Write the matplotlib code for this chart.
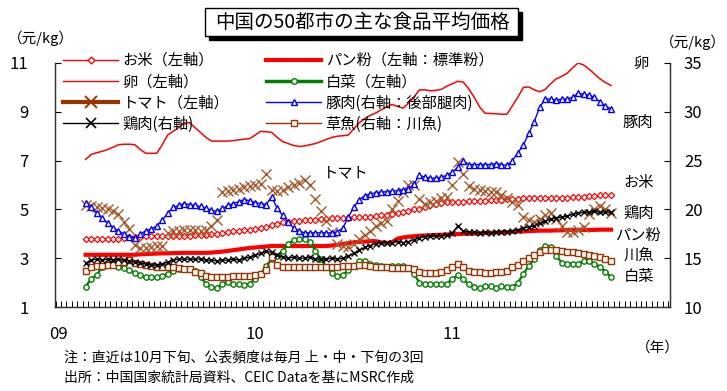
import numpy as np
import matplotlib.pyplot as plt
from matplotlib.lines import Line2D
from matplotlib.patches import Rectangle

plt.rcParams['font.family'] = ['Noto Sans CJK JP', 'DejaVu Sans']

# 旬 index counted from 2009年1月上旬 (0) ; data runs 2009年2月下旬 .. 2011年10月下旬
periods = np.arange(5, 102)
year_ticks = [0, 36, 72]
year_labels = ['09', '10', '11']

# left axis (元/kg)
rice = [3.78, 3.78, 3.78, 3.78, 3.78, 3.79, 3.80, 3.82, 3.85, 3.88,
        3.88, 3.90, 3.92, 3.92, 3.92, 3.93, 3.93, 3.93, 3.93, 3.93,
        3.95, 3.96, 3.97, 3.98, 3.99, 4.02, 4.07, 4.10, 4.12, 4.14,
        4.16, 4.18, 4.22, 4.28, 4.35, 4.42, 4.47, 4.50, 4.52, 4.53,
        4.55, 4.57, 4.58, 4.60, 4.62, 4.63, 4.64, 4.65, 4.66, 4.67,
        4.68, 4.69, 4.70, 4.72, 4.75, 4.78, 4.82, 4.85, 4.90, 4.95,
        5.00, 5.02, 5.10, 5.18, 5.24, 5.27, 5.29, 5.30, 5.31, 5.32,
        5.33, 5.34, 5.35, 5.36, 5.37, 5.38, 5.40, 5.42, 5.43, 5.44,
        5.45, 5.45, 5.46, 5.46, 5.47, 5.47, 5.48, 5.48, 5.48, 5.49,
        5.50, 5.51, 5.55, 5.56, 5.57, 5.57, 5.57]
egg = [7.05, 7.25, 7.32, 7.38, 7.45, 7.55, 7.65, 7.67, 7.67, 7.65,
       7.45, 7.30, 7.30, 7.30, 7.65, 8.05, 8.20, 8.35, 8.55, 8.55,
       8.35, 8.15, 7.95, 7.80, 7.80, 7.80, 7.80, 7.82, 7.85, 7.88,
       7.90, 8.05, 8.20, 8.18, 8.16, 7.95, 7.78, 7.70, 7.62, 7.58,
       7.60, 7.65, 7.70, 7.78, 7.87, 7.95, 8.00, 8.02, 8.05, 8.30,
       8.55, 8.72, 8.85, 8.95, 9.08, 9.20, 9.30, 9.22, 9.15, 9.35,
       9.60, 9.90, 9.90, 9.86, 9.88, 9.92, 10.05, 10.15, 10.25, 10.22,
       9.95, 9.60, 9.20, 8.94, 8.93, 8.92, 8.90, 8.90, 9.25, 9.60,
       10.00, 10.02, 9.90, 9.82, 9.92, 10.15, 10.35, 10.45, 10.58, 10.80,
       11.00, 10.92, 10.75, 10.55, 10.35, 10.20, 10.08]
tomato = [5.20, 5.15, 5.10, 5.05, 5.00, 4.95, 4.80, 4.47, 4.20, 3.55,
          3.40, 3.42, 3.45, 3.48, 3.50, 4.05, 4.10, 4.13, 4.15, 4.15,
          4.15, 4.12, 4.15, 4.30, 4.55, 5.70, 5.75, 5.80, 5.85, 5.90,
          5.95, 6.00, 6.05, 6.46, 5.80, 5.75, 5.80, 5.90, 6.00, 6.10,
          6.20, 5.98, 5.43, 4.95, 4.54, 4.06, 3.60, 3.50, 3.44, 3.60,
          3.79, 3.95, 4.13, 4.30, 4.45, 4.54, 5.03, 5.36, 5.70, 6.00,
          6.02, 5.44, 5.24, 5.30, 5.36, 5.45, 5.50, 5.98, 6.94, 6.47,
          5.95, 5.85, 5.80, 5.75, 5.70, 5.70, 5.60, 5.45, 5.30, 5.16,
          4.67, 4.55, 4.50, 4.60, 4.75, 4.85, 4.60, 4.33, 4.06, 4.06,
          4.15, 4.26, 4.80, 5.00, 5.15, 5.00, 4.85]
flour = [3.14, 3.14, 3.14, 3.14, 3.14, 3.14, 3.14, 3.14, 3.14, 3.14,
         3.16, 3.17, 3.18, 3.19, 3.20, 3.20, 3.21, 3.21, 3.22, 3.22,
         3.22, 3.22, 3.22, 3.23, 3.25, 3.27, 3.30, 3.33, 3.36, 3.39,
         3.42, 3.44, 3.46, 3.48, 3.50, 3.50, 3.50, 3.50, 3.50, 3.50,
         3.50, 3.50, 3.50, 3.50, 3.50, 3.52, 3.55, 3.58, 3.62, 3.65,
         3.67, 3.68, 3.70, 3.70, 3.65, 3.62, 3.65, 3.80, 3.85, 3.88,
         3.90, 3.92, 3.93, 3.94, 3.95, 3.96, 3.97, 3.98, 3.99, 4.00,
         4.00, 4.01, 4.02, 4.03, 4.04, 4.05, 4.06, 4.07, 4.08, 4.09,
         4.10, 4.11, 4.12, 4.13, 4.13, 4.13, 4.14, 4.14, 4.15, 4.15,
         4.15, 4.16, 4.16, 4.16, 4.17, 4.17, 4.17]
cabbage = [1.84, 2.15, 2.32, 2.62, 2.76, 2.76, 2.65, 2.59, 2.50, 2.41,
           2.32, 2.21, 2.21, 2.21, 2.28, 2.37, 2.49, 2.55, 2.55, 2.55,
           2.49, 2.21, 1.96, 1.82, 1.77, 1.96, 2.04, 1.93, 1.93, 1.90,
           1.96, 2.14, 2.35, 2.69, 2.96, 3.10, 3.30, 3.58, 3.74, 3.79,
           3.79, 3.65, 3.30, 2.96, 2.65, 2.40, 2.28, 2.32, 2.50, 2.69,
           2.89, 2.89, 2.76, 2.72, 2.69, 2.65, 2.67, 2.69, 2.69, 2.60,
           2.35, 2.00, 1.95, 1.93, 1.93, 1.94, 1.96, 2.14, 2.32, 2.14,
           1.93, 1.82, 1.77, 1.85, 1.85, 1.78, 1.85, 1.80, 1.82, 2.00,
           2.35, 2.69, 2.96, 3.33, 3.51, 3.47, 3.10, 2.82, 2.78, 2.78,
           2.78, 2.89, 2.89, 2.78, 2.65, 2.45, 2.23]

# right axis (元/kg)
pork = [20.7, 20.2, 19.6, 19.1, 18.6, 18.1, 17.8, 17.5, 17.2, 17.1,
        17.5, 17.8, 18.0, 18.3, 18.9, 19.6, 20.2, 20.4, 20.6, 20.5,
        20.4, 20.3, 20.1, 19.9, 19.8, 20.1, 20.4, 20.6, 20.8, 21.0,
        20.9, 20.7, 20.6, 20.5, 21.3, 20.1, 19.4, 18.7, 18.1, 17.8,
        17.6, 17.6, 17.6, 17.6, 17.6, 17.6, 17.7, 18.1, 19.2, 20.2,
        21.0, 21.4, 21.6, 21.7, 21.8, 21.8, 21.9, 21.9, 22.0, 22.1,
        22.6, 23.5, 23.3, 23.2, 23.2, 23.3, 23.5, 23.8, 24.3, 25.0,
        24.6, 24.6, 24.6, 24.6, 24.6, 24.7, 24.6, 24.5, 25.0, 25.8,
        26.6, 27.8, 29.0, 30.5, 31.3, 31.3, 31.2, 31.3, 31.3, 31.5,
        31.9, 31.8, 31.7, 31.5, 31.0, 30.6, 30.3]
chicken = [14.5, 14.8, 14.9, 14.8, 14.9, 14.8, 14.9, 14.8, 14.7, 14.6,
           14.5, 14.4, 14.3, 14.3, 14.4, 14.6, 14.8, 14.9, 14.9, 14.9,
           14.9, 14.9, 14.8, 14.8, 14.7, 14.8, 14.8, 14.9, 14.8, 15.0,
           15.1, 15.3, 15.5, 15.7, 15.6, 15.3, 15.1, 15.0, 15.1, 15.0,
           15.0, 15.1, 14.9, 14.9, 14.9, 15.0, 14.9, 15.0, 15.2, 15.5,
           15.8, 16.1, 16.3, 16.5, 16.6, 16.6, 16.6, 16.7, 16.6, 16.7,
           16.9, 17.1, 17.2, 17.3, 17.3, 17.3, 17.4, 17.6, 18.3, 17.8,
           17.7, 17.65, 17.6, 17.65, 17.6, 17.65, 17.7, 17.7, 17.8, 17.9,
           18.1, 18.2, 18.3, 18.6, 18.8, 19.0, 19.1, 19.2, 19.3, 19.5,
           19.6, 19.7, 19.7, 19.8, 19.7, 19.75, 19.7]
carp = [13.7, 14.1, 14.2, 14.2, 14.3, 14.35, 14.65, 14.65, 14.8, 14.5,
        14.4, 14.3, 14.2, 14.1, 14.1, 14.05, 14.1, 14.0, 13.9, 13.9,
        13.55, 13.45, 13.2, 13.1, 13.1, 13.1, 13.1, 13.15, 13.15, 13.15,
        13.2, 13.3, 13.4, 13.8, 15.1, 14.3, 14.05, 14.05, 14.05, 14.05,
        14.05, 14.05, 14.05, 14.05, 14.05, 14.05, 14.05, 14.2, 14.2, 14.25,
        14.3, 14.3, 14.2, 14.1, 14.05, 14.05, 14.0, 14.0, 14.0, 13.95,
        13.9, 13.55, 13.5, 13.5, 13.5, 13.6, 13.8, 14.05, 14.4, 14.1,
        13.7, 13.6, 13.55, 13.5, 13.5, 13.55, 13.6, 13.7, 14.1, 14.35,
        14.7, 15.05, 15.35, 15.6, 15.8, 15.85, 15.8, 15.75, 15.65, 15.6,
        15.5, 15.45, 15.3, 15.2, 15.1, 14.95, 14.75]

W, H = 727, 391


def fx(px):
    return px / W


def fy(py):
    return 1 - py / H


RED = '#FF0000'
GREEN = '#008000'
BLUE = '#0000FF'
BROWN = '#993300'
TOMATO_MK = '#A8582A'
CARP = '#993300'

fig = plt.figure(figsize=(7.27, 3.91), dpi=100)
ax = fig.add_axes([fx(55), fy(307), fx(670) - fx(55), fy(63) - fy(307)])
ax2 = ax.twinx()

# left axis series
ax.plot(periods, egg, color=RED, lw=1.1, zorder=2)
ax.plot(periods, flour, color=RED, lw=3, zorder=2)
ax.plot(periods, rice, color=RED, lw=0.9, marker='D', ms=3.2,
        mfc='white', mec=RED, mew=0.9, zorder=3)
ax.plot(periods, cabbage, color=GREEN, lw=1.6, marker='o', ms=3.8,
        mfc='white', mec=GREEN, mew=1.0, zorder=3)
ax.plot(periods, tomato, ls='none', marker='x', ms=6.5, mec=TOMATO_MK,
        mew=1.0, zorder=4)

# right axis series
ax2.plot(periods, carp, color=CARP, lw=1.0, marker='s', ms=3.8,
         mfc='white', mec=CARP, mew=1.0, zorder=2)
ax2.plot(periods, pork, color=BLUE, lw=1.0, marker='^', ms=4.5,
         mfc='white', mec=BLUE, mew=1.0, zorder=3)
ax2.plot(periods, chicken, color='black', lw=0.9, marker='x', ms=5,
         mec='black', mew=1.0, zorder=3)

ax.set_xlim(-0.6, 111.8)
ax.set_ylim(1, 11)
ax2.set_ylim(10, 35)
ax.set_yticks([1, 3, 5, 7, 9, 11])
ax2.set_yticks([10, 15, 20, 25, 30, 35])
ax.set_xticks(year_ticks)
ax.set_xticklabels(year_labels)
ax.set_xticks(np.arange(-0.5, 112, 1), minor=True)

ax.tick_params(axis='y', direction='in', length=4, labelsize=12, pad=19)
ax2.tick_params(axis='y', direction='in', length=4, labelsize=12, pad=10)
ax.tick_params(axis='x', which='major', length=0, labelsize=12, pad=14)
ax.tick_params(axis='x', which='minor', direction='in', length=4, width=0.7)

for a in (ax, ax2):
    a.spines['top'].set_visible(False)
    for s in ('left', 'right', 'bottom'):
        a.spines[s].set_linewidth(0.9)
        a.spines[s].set_color('#333333')
    a.patch.set_visible(False)

# legend
handles = [
    Line2D([], [], color=RED, lw=1, marker='D', ms=3.5, mfc='white', mec=RED),
    Line2D([], [], color=RED, lw=1),
    Line2D([], [], color=BROWN, lw=3, marker='x', ms=8, mec=BROWN, mew=1.4),
    Line2D([], [], color='black', lw=1, marker='x', ms=7, mec='black', mew=1.2),
    Line2D([], [], color=RED, lw=3),
    Line2D([], [], color=GREEN, lw=2.5, marker='o', ms=4, mfc='white', mec=GREEN),
    Line2D([], [], color=BLUE, lw=1, marker='^', ms=5, mfc='white', mec=BLUE),
    Line2D([], [], color=CARP, lw=1, marker='s', ms=4.5, mfc='white', mec=CARP),
]
labels = ['お米（左軸）', '卵（左軸）', 'トマト（左軸）', '鶏肉(右軸)',
          'パン粉（左軸：標準粉）', '白菜（左軸）', '豚肉(右軸：後部腿肉)', '草魚(右軸：川魚)']
fig.legend(handles, labels, ncol=2, loc='upper left',
           bbox_to_anchor=(fx(63), fy(52)), frameon=False, fontsize=11,
           handlelength=3.6, handletextpad=0.3, columnspacing=2.4,
           labelspacing=0.28, borderpad=0, borderaxespad=0, numpoints=1)

# title with shadow box
fig.patches.append(Rectangle((fx(209), fy(40)), fx(522) - fx(209), fy(12) - fy(40),
                             transform=fig.transFigure, facecolor='black',
                             edgecolor='black', zorder=5))
fig.patches.append(Rectangle((fx(205), fy(36)), fx(518) - fx(205), fy(8) - fy(36),
                             transform=fig.transFigure, facecolor='white',
                             edgecolor='black', lw=1, zorder=6))
fig.text(fx(362), fy(22), '中国の50都市の主な食品平均価格', fontsize=14,
         ha='center', va='center', zorder=7)

# axis units
fig.text(fx(8), fy(38), '（元/kg）', fontsize=10.5, va='center')
fig.text(fx(660), fy(42), '（元/kg）', fontsize=10.5, va='center')
fig.text(fx(636), fy(348), '（年）', fontsize=10.5, va='center')

# series names at right
for name, px, py in [('卵', 641, 63), ('豚肉', 638, 122), ('お米', 639, 183),
                     ('鶏肉', 639, 213), ('パン粉', 638, 235), ('川魚', 639, 255),
                     ('白菜', 639, 277), ('トマト', 346, 173)]:
    fig.text(fx(px), fy(py), name, fontsize=11, ha='center', va='center')

# notes
fig.text(fx(64), fy(357), '注：直近は10月下旬、公表頻度は毎月 上・中・下旬の3回',
         fontsize=10, va='center')
fig.text(fx(64), fy(378), '出所：中国国家統計局資料、CEIC Dataを基にMSRC作成',
         fontsize=10, va='center')

fig.savefig('out.png', dpi=100)
